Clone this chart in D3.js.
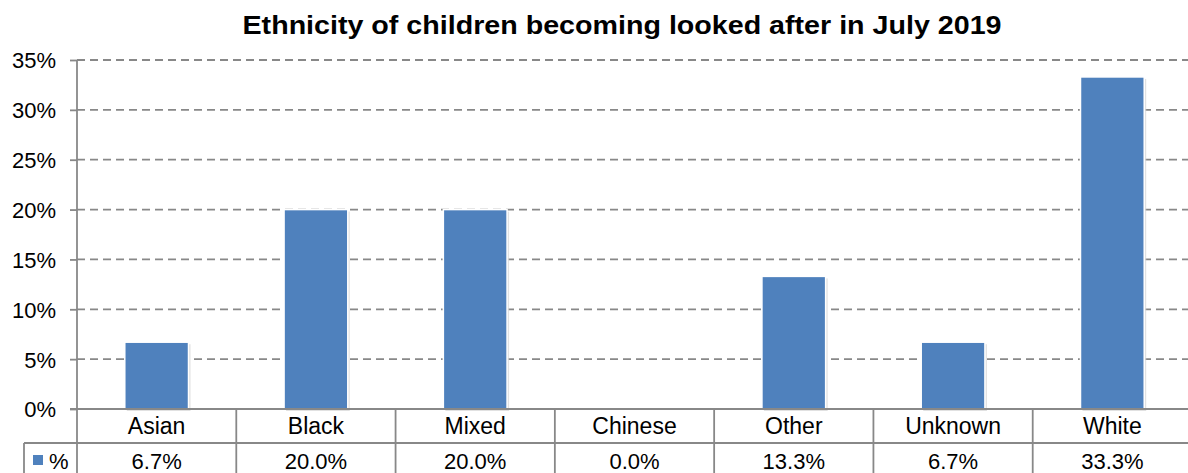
<!DOCTYPE html>
<html>
<head>
<meta charset="utf-8">
<script src="https://cdn.jsdelivr.net/npm/d3@7"></script>
<style>
  body { margin: 0; background: #fff; }
  svg { display: block; font-family: "Liberation Sans", Arial, sans-serif; }
</style>
</head>
<body>
<svg id="chart" width="1188" height="473"></svg>
<script>
// chart data
var categories = ["Asian", "Black", "Mixed", "Chinese", "Other", "Unknown", "White"];
var values = [6.7, 20.0, 20.0, 0.0, 13.3, 6.7, 33.3];
var yTicks = [0, 5, 10, 15, 20, 25, 30, 35];
var seriesName = "%";

var svg = d3.select("#chart");
var plotLeft = 77, plotRight = 1192, plotTop = 60, plotBottom = 409;
var row1 = 443, row2 = 480;
var grey = "#888888";

var x = d3.scaleBand().domain(categories).range([plotLeft, plotRight]).paddingInner(0.6).paddingOuter(0.3);
var band = (plotRight - plotLeft) / categories.length;
var y = d3.scaleLinear().domain([0, 35]).range([plotBottom, plotTop]);

// title
svg.append("text")
  .attr("x", 622).attr("y", 34)
  .attr("text-anchor", "middle")
  .attr("font-size", "26px").attr("font-weight", "bold")
  .attr("textLength", 759).attr("lengthAdjust", "spacingAndGlyphs")
  .text("Ethnicity of children becoming looked after in July 2019");

// gridlines
svg.append("g").selectAll("line")
  .data(yTicks.filter(function(d){return d > 0;}))
  .enter().append("line")
  .attr("x1", plotLeft).attr("x2", plotRight)
  .attr("y1", function(d){return y(d);}).attr("y2", function(d){return y(d);})
  .style("stroke", grey).style("stroke-width", 1.8)
  .style("stroke-dasharray", "8,5");

// y axis
var yAxis = svg.append("g")
  .attr("transform", "translate(" + plotLeft + ",0)")
  .call(d3.axisLeft(y).tickValues(yTicks).tickSize(7).tickFormat(function(d){return d + "%";}));
yAxis.select(".domain").remove();
yAxis.selectAll(".tick line").style("stroke", grey).style("stroke-width", 1.8);
yAxis.selectAll(".tick text")
  .attr("x", -21).attr("dy", "0.36em").attr("font-size", "22px").attr("fill", "#000")
  .style("font-family", "'Liberation Sans', Arial, sans-serif");

// bar shadow + bars
var bars = svg.append("g");
bars.selectAll("rect.shadow")
  .data(values)
  .enter().append("rect")
  .attr("class", "shadow")
  .attr("x", function(d, i){return x(categories[i]) + 2;})
  .attr("y", function(d){return y(d) + 2;})
  .attr("width", x.bandwidth())
  .attr("height", function(d){return y(0) - y(d);})
  .style("fill", "#d9d9d9").style("opacity", function(d){return d > 0 ? 0.8 : 0;});
bars.selectAll("rect.bar")
  .data(values)
  .enter().append("rect")
  .attr("class", "bar")
  .attr("x", function(d, i){return x(categories[i]);})
  .attr("y", function(d){return y(d);})
  .attr("width", x.bandwidth())
  .attr("height", function(d){return y(0) - y(d);})
  .style("fill", "#4f81bd")
  .style("stroke", "#fff").style("stroke-width", 1.5)
  .style("opacity", function(d){return d > 0 ? 1 : 0;});

// data table
var table = svg.append("g");
table.append("line").attr("x1", plotLeft - 7).attr("x2", plotRight).attr("y1", plotBottom).attr("y2", plotBottom)
  .style("stroke", grey).style("stroke-width", 1.8);
table.append("line").attr("x1", 24).attr("x2", plotRight).attr("y1", row1).attr("y2", row1)
  .style("stroke", grey).style("stroke-width", 1.8);
table.append("line").attr("x1", 24).attr("x2", 24).attr("y1", row1).attr("y2", row2)
  .style("stroke", grey).style("stroke-width", 1.8);
table.append("line").attr("x1", plotLeft).attr("x2", plotLeft).attr("y1", plotTop).attr("y2", row2)
  .style("stroke", grey).style("stroke-width", 1.8);
table.selectAll("line.sep")
  .data(categories)
  .enter().append("line")
  .attr("class", "sep")
  .attr("x1", function(d, i){return plotLeft + band * (i + 1);})
  .attr("x2", function(d, i){return plotLeft + band * (i + 1);})
  .attr("y1", plotBottom).attr("y2", row2)
  .style("stroke", grey).style("stroke-width", 1.8);

table.selectAll("text.cat")
  .data(categories)
  .enter().append("text")
  .attr("class", "cat")
  .attr("x", function(d){return x(d) + x.bandwidth() / 2;})
  .attr("y", 434)
  .attr("text-anchor", "middle").attr("font-size", "23px")
  .text(function(d){return d;});

table.selectAll("text.val")
  .data(values)
  .enter().append("text")
  .attr("class", "val")
  .attr("x", function(d, i){return x(categories[i]) + x.bandwidth() / 2;})
  .attr("y", 469)
  .attr("text-anchor", "middle").attr("font-size", "22px")
  .text(function(d){return d.toFixed(1) + "%";});

// legend key
table.append("rect").attr("x", 33).attr("y", 455).attr("width", 10).attr("height", 10)
  .style("fill", "#4f81bd");
table.append("text").attr("x", 49).attr("y", 469).attr("font-size", "22px").text(seriesName);
</script>
</body>
</html>
